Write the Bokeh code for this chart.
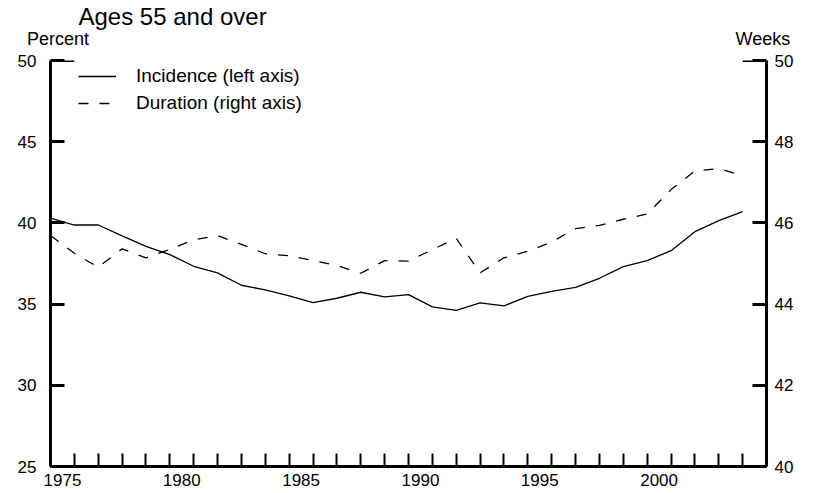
from bokeh.plotting import figure
from bokeh.models import (Range1d, LinearAxis, FixedTicker, Legend, LegendItem, Arrow)
from bokeh.embed import file_html
from bokeh.resources import INLINE

# ---------------- data ----------------
years = list(range(1975, 2005))
incidence = [40.30, 39.87, 39.87, 39.20, 38.56, 38.05, 37.33, 36.92, 36.16, 35.87,
             35.50, 35.09, 35.36, 35.73, 35.44, 35.58, 34.83, 34.62, 35.07, 34.89,
             35.48, 35.79, 36.03, 36.59, 37.31, 37.68, 38.29, 39.46, 40.14, 40.69]
duration = [45.69, 45.25, 44.91, 45.36, 45.14, 45.35, 45.58, 45.69, 45.47, 45.24,
            45.19, 45.07, 44.95, 44.76, 45.07, 45.06, 45.34, 45.62, 44.77, 45.14,
            45.30, 45.53, 45.86, 45.94, 46.09, 46.22, 46.82, 47.28, 47.34, 47.16]

year_tick_marks = list(range(1976, 2005))
year_labels = ["1975", "1980", "1985", "1990", "1995", "2000"]
left_ticks = [25, 30, 35, 40, 45, 50]
right_ticks = [40, 42, 44, 46, 48, 50]

title_text = "Ages 55 and over"
unit_labels = ["Percent", "Weeks"]

X_START, X_END = 1975, 2005
L_MIN, L_MAX = 25, 50
R_MIN, R_MAX = 40, 50

FONT = "Liberation Sans"

p = figure(width=819, height=493,
           x_range=Range1d(X_START, X_END), y_range=Range1d(L_MIN, L_MAX),
           x_axis_type=None, y_axis_type=None, title=title_text,
           output_backend="svg", toolbar_location=None,
           min_border_left=50, min_border_right=53,
           min_border_top=60, min_border_bottom=27)
p.title.text_font = FONT
p.title.text_font_size = "24px"
p.title.text_font_style = "normal"
p.title.text_color = "black"
p.title.align = "left"
p.title.offset = 28
p.title.standoff = -8
p.extra_y_ranges = {"weeks": Range1d(R_MIN, R_MAX)}
p.outline_line_color = None
p.background_fill_color = "white"
p.border_fill_color = "white"

# x axis: tick marks at year boundaries, labels centred in the year
label_pos = [int(t) + 0.5 for t in year_labels]
xaxis = LinearAxis(ticker=FixedTicker(ticks=label_pos, minor_ticks=year_tick_marks),
                   major_label_overrides={lp: t for lp, t in zip(label_pos, year_labels)})
xaxis.axis_line_width = 3
xaxis.major_tick_in = 0
xaxis.major_tick_out = 0
xaxis.minor_tick_in = 13
xaxis.minor_tick_out = 0
xaxis.minor_tick_line_width = 2
xaxis.major_label_standoff = 7
xaxis.major_label_text_font = FONT
xaxis.major_label_text_font_size = "17px"
xaxis.major_label_text_color = "black"
p.add_layout(xaxis, "below")

# unit captions above the two value axes
unit_pos = [X_START + 0.31, X_END - 0.15]
uaxis = LinearAxis(ticker=FixedTicker(ticks=unit_pos, minor_ticks=[]),
                   major_label_overrides={u: t for u, t in zip(unit_pos, unit_labels)})
uaxis.axis_line_color = None
uaxis.major_tick_line_color = None
uaxis.minor_tick_line_color = None
uaxis.major_tick_in = 0
uaxis.major_tick_out = 0
uaxis.major_label_standoff = 12
uaxis.major_label_text_font = FONT
uaxis.major_label_text_font_size = "18px"
uaxis.major_label_text_color = "black"
p.add_layout(uaxis, "above")

def style_y(ax, standoff):
    ax.axis_line_width = 3
    ax.major_tick_in = 14
    ax.major_tick_out = 0
    ax.major_tick_line_width = 3
    ax.minor_tick_in = 0
    ax.minor_tick_out = 0
    ax.major_label_standoff = standoff
    ax.major_label_text_font = FONT
    ax.major_label_text_font_size = "17px"
    ax.major_label_text_color = "black"

yl = LinearAxis(ticker=FixedTicker(ticks=left_ticks))
style_y(yl, 14)
p.add_layout(yl, "left")

yr = LinearAxis(y_range_name="weeks", ticker=FixedTicker(ticks=right_ticks))
style_y(yr, 8)
p.add_layout(yr, "right")

# top stubs of the frame
p.add_layout(Arrow(end=None, x_start=X_START, y_start=L_MAX, x_end=X_START + 1, y_end=L_MAX,
                   line_width=3, line_color="black"))
p.add_layout(Arrow(end=None, x_start=X_END - 1, y_start=L_MAX, x_end=X_END, y_end=L_MAX,
                   line_width=3, line_color="black"))

r1 = p.line(years, incidence, line_color="black", line_width=1.3)
r2 = p.line(years, duration, y_range_name="weeks", line_color="black",
            line_width=1.3, line_dash="10 11")

legend = Legend(items=[LegendItem(label="Incidence (left axis)", renderers=[r1]),
                       LegendItem(label="Duration (right axis)", renderers=[r2])],
                location=(28, 352), glyph_width=38, glyph_height=22, label_height=22,
                label_width=190, spacing=5, label_standoff=20, padding=0, margin=0,
                border_line_color=None, background_fill_alpha=0,
                label_text_font=FONT, label_text_font_size="19px",
                label_text_color="black")
p.add_layout(legend)

open("out.html", "w").write(file_html(p, INLINE))
